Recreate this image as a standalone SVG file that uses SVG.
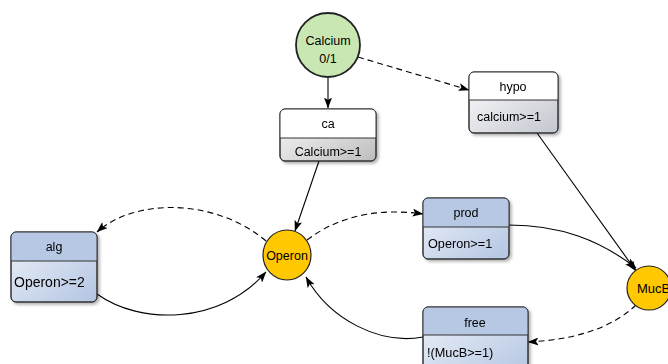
<svg xmlns="http://www.w3.org/2000/svg" width="668" height="364" viewBox="0 0 668 364">
<style>
text{font-family:"Liberation Sans",Arial,sans-serif;fill:#000}
.hdr{font-size:12.5px;text-anchor:middle}
.bx{stroke:#333;stroke-width:1}
.div{stroke:#333;stroke-width:1}
.ln{fill:none;stroke:#000;stroke-width:1.1}
.dash{stroke-dasharray:6,4}
</style>
<defs>
<linearGradient id="gGrey" x1="0" y1="0" x2="1" y2="1">
<stop offset="0" stop-color="#ffffff"/><stop offset="1" stop-color="#bdbdbd"/>
</linearGradient>
<linearGradient id="gGreyB" x1="0" y1="0" x2="1" y2="1">
<stop offset="0" stop-color="#ffffff"/><stop offset="1" stop-color="#c3c6cf"/>
</linearGradient>
<linearGradient id="gBlue" x1="0" y1="0" x2="1" y2="1">
<stop offset="0" stop-color="#eef2f9"/><stop offset="1" stop-color="#b3c5e2"/>
</linearGradient>
<filter id="sh" x="-10%" y="-10%" width="130%" height="130%">
<feDropShadow dx="2" dy="2" stdDeviation="1.5" flood-color="#000" flood-opacity="0.3"/>
</filter>
<marker id="ar" viewBox="0 0 11 8" refX="10.5" refY="4" markerWidth="11" markerHeight="8" markerUnits="userSpaceOnUse" orient="auto">
<path d="M0,0 L11,4 L0,8 L2.5,4 Z" fill="#000"/>
</marker>
</defs>
<g id="connectors">
<path class="ln" d="M328,78 L328,108" marker-end="url(#ar)"/>
<path class="ln dash" d="M358,57 L469,90" marker-end="url(#ar)"/>
<path class="ln" d="M319,161 L295,231" marker-end="url(#ar)"/>
<path class="ln" d="M537,133 L636,271" marker-end="url(#ar)"/>
<path class="ln dash" d="M266,241 C215,198 135,198 97,232" marker-end="url(#ar)"/>
<path class="ln" d="M97,294 C140,325 220,325 266,272" marker-end="url(#ar)"/>
<path class="ln dash" d="M307,240 C340,215 380,208 423,214" marker-end="url(#ar)"/>
<path class="ln" d="M509,225 C560,225 600,240 636,268" marker-end="url(#ar)"/>
<path class="ln dash" d="M636,305 C610,330 570,340 528,342" marker-end="url(#ar)"/>
<path class="ln" d="M423,337 C380,345 330,320 306,277" marker-end="url(#ar)"/>
</g>
<g id="Calcium">
<circle cx="328" cy="45" r="32" fill="#c8e7b3" stroke="#222" stroke-width="1.8"/>
<text x="328" y="45" class="hdr" font-size="13px">Calcium</text>
<text x="328" y="63" class="hdr" font-size="13px">0/1</text>
</g>
<g id="ca" filter="url(#sh)">
<rect x="280" y="109" width="96" height="52" rx="5" fill="url(#gGrey)" class="bx"/>
<path d="M285,109 H371 A5,5 0 0 1 376,114 V138 H280 V114 A5,5 0 0 1 285,109 Z" fill="#fff"/>
<rect x="280" y="109" width="96" height="52" rx="5" fill="none" class="bx"/>
<line x1="280" y1="138" x2="376" y2="138" class="div"/>
<text x="328" y="128" class="hdr">ca</text>
<text x="328" y="156" class="hdr" font-size="14px">Calcium&gt;=1</text>
</g>
<g id="hypo" filter="url(#sh)">
<rect x="469" y="72" width="89" height="61" rx="5" fill="url(#gGreyB)" class="bx"/>
<path d="M474,72 H553 A5,5 0 0 1 558,77 V100 H469 V77 A5,5 0 0 1 474,72 Z" fill="#fff"/>
<rect x="469" y="72" width="89" height="61" rx="5" fill="none" class="bx"/>
<line x1="469" y1="100" x2="558" y2="100" class="div"/>
<text x="513" y="91" class="hdr">hypo</text>
<text x="477" y="121" font-size="12.5px">calcium&gt;=1</text>
</g>
<g id="alg" filter="url(#sh)">
<rect x="11" y="232" width="86" height="70" rx="5" fill="url(#gBlue)" class="bx"/>
<path d="M16,232 H92 A5,5 0 0 1 97,237 V261 H11 V237 A5,5 0 0 1 16,232 Z" fill="#b6c8e4"/>
<rect x="11" y="232" width="86" height="70" rx="5" fill="none" class="bx"/>
<line x1="11" y1="261" x2="97" y2="261" class="div"/>
<text x="54" y="251" class="hdr">alg</text>
<text x="14" y="287" font-size="14px">Operon&gt;=2</text>
</g>
<g id="prod" filter="url(#sh)">
<rect x="423" y="198" width="86" height="61" rx="5" fill="url(#gBlue)" class="bx"/>
<path d="M428,198 H504 A5,5 0 0 1 509,203 V227 H423 V203 A5,5 0 0 1 428,198 Z" fill="#b6c8e4"/>
<rect x="423" y="198" width="86" height="61" rx="5" fill="none" class="bx"/>
<line x1="423" y1="227" x2="509" y2="227" class="div"/>
<text x="466" y="217" class="hdr">prod</text>
<text x="428" y="248" font-size="12.7px">Operon&gt;=1</text>
</g>
<g id="free" filter="url(#sh)">
<rect x="423" y="307" width="105" height="72" rx="5" fill="url(#gBlue)" class="bx"/>
<path d="M428,307 H523 A5,5 0 0 1 528,312 V335 H423 V312 A5,5 0 0 1 428,307 Z" fill="#b6c8e4"/>
<rect x="423" y="307" width="105" height="72" rx="5" fill="none" class="bx"/>
<line x1="423" y1="335" x2="528" y2="335" class="div"/>
<text x="475" y="327" class="hdr">free</text>
<text x="427" y="357" font-size="12.7px">!(MucB&gt;=1)</text>
</g>
<g id="Operon">
<ellipse cx="287" cy="255" rx="24" ry="25" fill="#ffc800" stroke="#222" stroke-width="1.2"/>
<text x="287" y="260" class="hdr" font-size="13px">Operon</text>
</g>
<g id="MucB">
<circle cx="649" cy="288" r="22" fill="#ffc800" stroke="#222" stroke-width="1.2"/>
<text x="637" y="293" font-size="13px">MucB</text>
</g>
</svg>
